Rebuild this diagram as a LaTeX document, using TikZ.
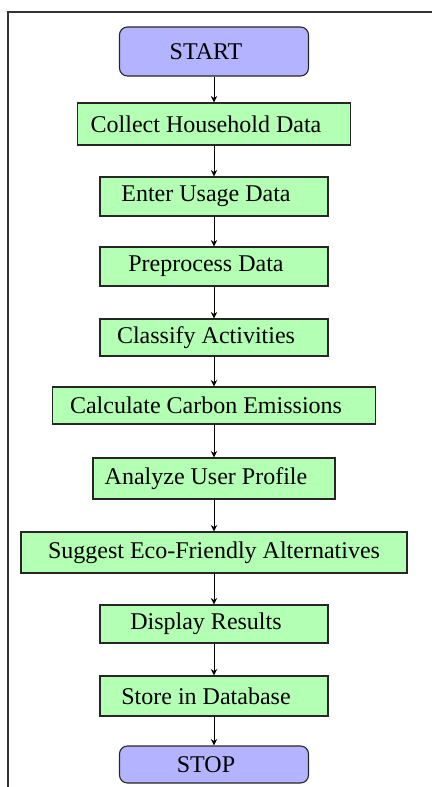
\documentclass[tikz,border=0pt]{standalone}
\usepackage{fontspec}
\setmainfont{Liberation Serif}
\usepackage{tikz}
\usetikzlibrary{arrows.meta}
\definecolor{stepgreen}{HTML}{B3FFB3}
\definecolor{termblue}{HTML}{B3B3FF}
\newcommand{\cx}{214}
\tikzset{%
  pad/.store in=\tpad, pad=16pt}
\tikzset{%
  process/.style={draw=black!85, line width=1.1pt, fill=stepgreen,
    inner sep=0pt, font=\fontsize{24pt}{26pt}\selectfont,
    execute at end node={\hspace*{\tpad}}}}
\tikzset{%
  terminal/.style={process, fill=termblue, rounded corners=8pt,
    minimum width=189pt}}
\tikzset{flow/.style={-{Stealth[length=6.5pt,width=6.5pt]}, line width=0.8pt}}

\begin{document}
\begin{tikzpicture}[x=1pt,y=-1pt]
\useasboundingbox (0,0) rectangle (432,787);
\draw[line width=1.4pt, draw=black!80] (8,787) -- (8,12) -- (432,12);

\node[terminal, minimum height=49pt] at (\cx, 51.5) (start) {START};
\node[process, minimum width=273pt, minimum height=42pt] at (\cx, 124) (collect) {Collect Household Data};
\node[process, minimum width=228pt, minimum height=39pt] at (\cx, 196.5) (enter) {Enter Usage Data};
\node[process, minimum width=228pt, minimum height=39pt] at (\cx, 266.5) (prep) {Preprocess Data};
\node[process, minimum width=228pt, minimum height=37pt] at (\cx, 337.5) (classify) {Classify Activities};
\node[process, minimum width=323pt, minimum height=37pt] at (\cx, 405.5) (calc) {Calculate Carbon Emissions};
\node[process, minimum width=242pt, minimum height=41pt] at (\cx, 478.5) (profile) {Analyze User Profile};
\node[process, minimum width=386pt, minimum height=41pt, pad=0pt] at (\cx, 552.5) (suggest) {Suggest Eco-Friendly Alternatives};
\node[process, minimum width=228pt, minimum height=38pt] at (\cx, 624) (display) {Display Results};
\node[process, minimum width=228pt, minimum height=40pt] at (\cx, 696) (store) {Store in Database};
\node[terminal, minimum height=37pt] at (\cx, 764.5) (stop) {STOP};

\draw[flow] (start) -- (collect);
\draw[flow] (collect) -- (enter);
\draw[flow] (enter) -- (prep);
\draw[flow] (prep) -- (classify);
\draw[flow] (classify) -- (calc);
\draw[flow] (calc) -- (profile);
\draw[flow] (profile) -- (suggest);
\draw[flow] (suggest) -- (display);
\draw[flow] (display) -- (store);
\draw[flow] (store) -- (stop);

\end{tikzpicture}
\end{document}
